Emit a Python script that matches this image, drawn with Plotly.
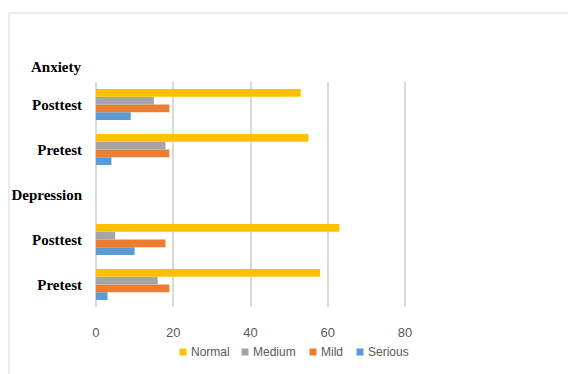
import plotly.graph_objects as go

# Data (bottom to top along the category axis)
categories = ["Depression|Pretest", "Depression|Posttest", "Depression", "Anxiety|Pretest", "Anxiety|Posttest"]
tick_labels = ["Pretest", "Posttest", "Depression", "Pretest", "Posttest"]
top_label = "Anxiety"

normal = [58, 63, None, 55, 53]
medium = [16, 5, None, 18, 15]
mild = [19, 18, None, 19, 19]
serious = [3, 10, None, 4, 9]

series_names = ["Normal", "Medium", "Mild", "Serious"]
series_values = [normal, medium, mild, serious]
colors = ["#FFC000", "#A5A5A5", "#ED7D31", "#5B9BD5"]

x_ticks = [0, 20, 40, 60, 80]

# plot area in pixels
L, R, T, B = 94, 407, 82, 307
W, H = R - L, B - T


def px_x(p):
    return (p - L) / W


def px_y(p):
    return (B - p) / H


fig = go.Figure()
# add in reverse so Normal is on top within each group
for name, vals, col in reversed(list(zip(series_names, series_values, colors))):
    fig.add_trace(go.Bar(
        y=categories, x=vals, name=name, orientation="h",
        marker=dict(color=col, line=dict(width=0)),
        showlegend=False,
    ))

sans = "Liberation Sans, Arial, sans-serif"
serif = "Liberation Serif, Times New Roman, serif"

annotations = [dict(
    text=top_label, xref="paper", yref="paper", x=px_x(83), y=px_y(67),
    xanchor="right", yanchor="middle", showarrow=False,
    font=dict(family=serif, size=15, color="black", weight="bold"),
)]
shapes = [
    dict(
        type="rect", xref="paper", yref="paper",
        x0=px_x(9), x1=px_x(575), y0=px_y(385), y1=px_y(13),
        line=dict(color="#D9D9D9", width=1), layer="below",
    ),
    # vertical gridline at the axis origin
    dict(
        type="line", xref="x", yref="paper", x0=x_ticks[0], x1=x_ticks[0], y0=0, y1=1,
        line=dict(color="#D9D9D9", width=1.5), layer="below",
    ),
]

# manual legend: small squares + labels
legend_marker_x = [183, 245, 313, 360]
legend_y = 352
for name, col, mx in zip(series_names, colors, legend_marker_x):
    shapes.append(dict(
        type="rect", xref="paper", yref="paper",
        x0=px_x(mx - 3.5), x1=px_x(mx + 3.5),
        y0=px_y(legend_y + 3.5), y1=px_y(legend_y - 3.5),
        fillcolor=col, line=dict(width=0),
    ))
    annotations.append(dict(
        text=name, xref="paper", yref="paper", x=px_x(mx + 6), y=px_y(legend_y),
        xanchor="left", yanchor="middle", showarrow=False,
        font=dict(family=sans, size=12, color="#595959"),
    ))

fig.update_layout(
    width=568, height=374,
    margin=dict(l=L, r=568 - R, t=T, b=374 - B, autoexpand=False),
    paper_bgcolor="white", plot_bgcolor="white",
    barmode="group", bargap=0.31, bargroupgap=0,
    showlegend=False,
    xaxis=dict(
        range=[-0.5, 80.5], tickvals=x_ticks, ticktext=[str(v) for v in x_ticks],
        showgrid=True, gridcolor="#D9D9D9", gridwidth=1.5,
        zeroline=False, showline=False,
        ticks="outside", ticklen=13, tickcolor="rgba(0,0,0,0)",
        tickfont=dict(family=sans, size=13, color="#595959"),
        fixedrange=True,
    ),
    yaxis=dict(
        type="category", categoryorder="array", categoryarray=categories,
        tickvals=categories, ticktext=tick_labels,
        showgrid=False, zeroline=False, showline=False,
        ticks="outside", ticklen=8, tickcolor="rgba(0,0,0,0)",
        tickfont=dict(family=serif, size=15, color="black", weight="bold"),
        fixedrange=True,
    ),
    annotations=annotations,
    shapes=shapes,
)

fig.write_html("out.html")
